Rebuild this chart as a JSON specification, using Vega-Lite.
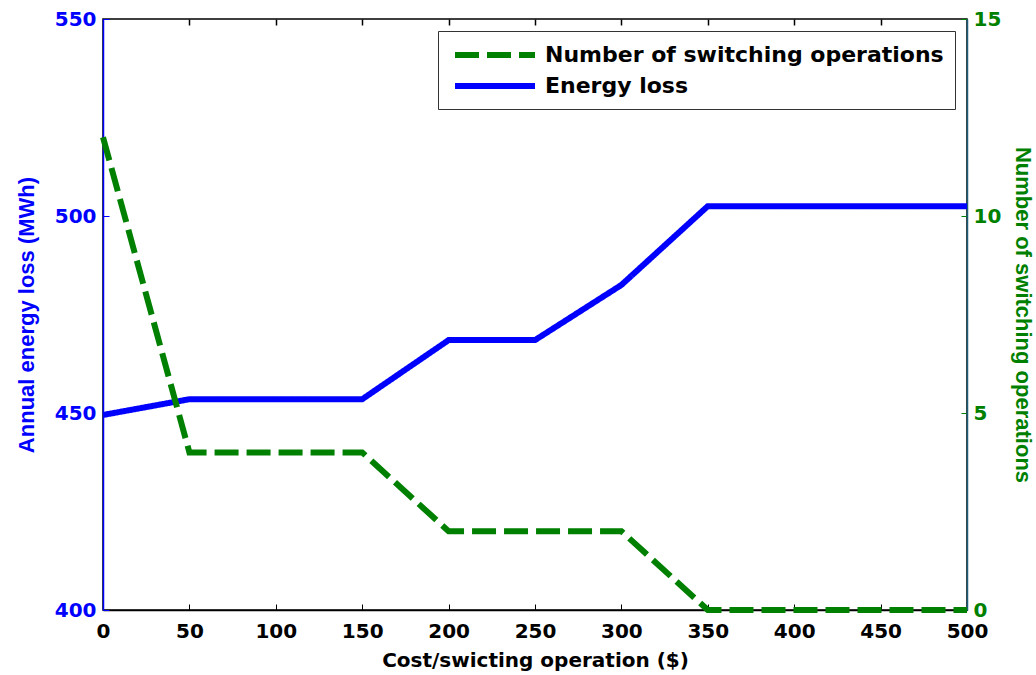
{
  "$schema": "https://vega.github.io/schema/vega-lite/v6.json",
  "width": 864,
  "height": 591,
  "autosize": "none",
  "padding": {"left": 103, "top": 19, "right": 69, "bottom": 65},
  "background": "white",
  "config": {
    "view": {"stroke": "black", "strokeWidth": 1.5},
    "font": "DejaVu Sans",
    "legend": {
      "titleFontSize": 0,
      "symbolType": "M-4,0L4,0",
      "symbolSize": 400,
      "symbolStrokeWidth": 6,
      "labelFont": "DejaVu Sans",
      "labelFontSize": 22,
      "labelFontWeight": "bold",
      "labelColor": "black",
      "labelLimit": 600,
      "strokeColor": "#333333",
      "fillColor": "white",
      "padding": 11,
      "rowPadding": 6,
      "symbolOffset": 33,
      "labelOffset": 37
    }
  },
  "data": {
    "values": [
      {"cost": 0, "series": "Energy loss", "value": 449.5},
      {"cost": 50, "series": "Energy loss", "value": 453.5},
      {"cost": 100, "series": "Energy loss", "value": 453.5},
      {"cost": 150, "series": "Energy loss", "value": 453.5},
      {"cost": 200, "series": "Energy loss", "value": 468.5},
      {"cost": 250, "series": "Energy loss", "value": 468.5},
      {"cost": 300, "series": "Energy loss", "value": 482.5},
      {"cost": 350, "series": "Energy loss", "value": 502.5},
      {"cost": 400, "series": "Energy loss", "value": 502.5},
      {"cost": 450, "series": "Energy loss", "value": 502.5},
      {"cost": 500, "series": "Energy loss", "value": 502.5},
      {"cost": 0, "series": "Number of switching operations", "value": 12},
      {"cost": 50, "series": "Number of switching operations", "value": 4},
      {"cost": 100, "series": "Number of switching operations", "value": 4},
      {"cost": 150, "series": "Number of switching operations", "value": 4},
      {"cost": 200, "series": "Number of switching operations", "value": 2},
      {"cost": 250, "series": "Number of switching operations", "value": 2},
      {"cost": 300, "series": "Number of switching operations", "value": 2},
      {"cost": 350, "series": "Number of switching operations", "value": 0},
      {"cost": 400, "series": "Number of switching operations", "value": 0},
      {"cost": 450, "series": "Number of switching operations", "value": 0},
      {"cost": 500, "series": "Number of switching operations", "value": 0}
    ]
  },
  "encoding": {
    "x": {
      "field": "cost",
      "type": "quantitative",
      "scale": {"domain": [0, 500], "nice": false},
      "axis": {
        "values": [0, 50, 100, 150, 200, 250, 300, 350, 400, 450, 500],
        "grid": false,
        "tickSize": -6,
        "tickColor": "black",
        "domainColor": "black",
        "domainWidth": 1.5,
        "labelFont": "DejaVu Sans",
        "labelFontSize": 20,
        "labelFontWeight": "bold",
        "labelColor": "black",
        "labelPadding": 17,
        "labelFlush": false,
        "title": "Cost/swicting operation ($)",
        "titleFont": "DejaVu Sans",
        "titleFontSize": 20,
        "titleFontWeight": "bold",
        "titleColor": "black",
        "titlePadding": 9
      }
    },
    "color": {
      "field": "series",
      "type": "nominal",
      "scale": {"domain": ["Number of switching operations", "Energy loss"], "range": ["#008000", "#0000ff"]},
      "legend": {"orient": "none", "legendX": 335, "legendY": 12, "title": null}
    },
    "strokeDash": {
      "field": "series",
      "type": "nominal",
      "scale": {"domain": ["Number of switching operations", "Energy loss"], "range": [[24, 8], [1, 0]]},
      "legend": {"orient": "none", "legendX": 335, "legendY": 12, "title": null}
    }
  },
  "layer": [
    {
      "transform": [{"filter": "datum.series === 'Energy loss'"}],
      "mark": {"type": "line", "strokeWidth": 6, "strokeCap": "butt"},
      "encoding": {
        "y": {
          "field": "value",
          "type": "quantitative",
          "scale": {"domain": [400, 550], "nice": false, "zero": false},
          "axis": {
            "orient": "left",
            "values": [400, 450, 500, 550],
            "grid": false,
            "tickSize": -6,
            "tickColor": "#0000ff",
            "domainColor": "#0000ff",
            "domainWidth": 1.5,
            "labelFont": "DejaVu Sans",
            "labelFontSize": 20,
            "labelFontWeight": "bold",
            "labelColor": "#0000ff",
            "labelPadding": 13,
            "labelFlush": false,
            "title": "Annual energy loss (MWh)",
            "titleFont": "Liberation Sans",
            "titleFontSize": 22,
            "titleFontWeight": "bold",
            "titleColor": "#0000ff",
            "titlePadding": 16
          }
        }
      }
    },
    {
      "transform": [{"filter": "datum.series === 'Number of switching operations'"}],
      "mark": {"type": "line", "strokeWidth": 6, "strokeCap": "butt"},
      "encoding": {
        "x": {
          "field": "cost",
          "type": "quantitative",
          "scale": {"domain": [0, 500], "nice": false},
          "axis": {
            "orient": "top",
            "values": [50, 100, 150, 200, 250, 300, 350, 400, 450],
            "grid": false,
            "labels": false,
            "domain": false,
            "title": null,
            "tickSize": -6,
            "tickWidth": 1.5,
            "tickColor": "black"
          }
        },
        "y": {
          "field": "value",
          "type": "quantitative",
          "scale": {"domain": [0, 15], "nice": false, "zero": false},
          "axis": {
            "orient": "right",
            "values": [0, 5, 10, 15],
            "grid": false,
            "tickSize": -6,
            "tickColor": "#008000",
            "domainColor": "#1b5e7a",
            "domainWidth": 1.5,
            "labelFont": "DejaVu Sans",
            "labelFontSize": 20,
            "labelFontWeight": "bold",
            "labelColor": "#008000",
            "labelPadding": 12,
            "labelFlush": false,
            "title": "Number of switching operations",
            "titleFont": "Liberation Sans",
            "titleFontSize": 22,
            "titleFontWeight": "bold",
            "titleColor": "#008000",
            "titlePadding": 10
          }
        }
      }
    }
  ],
  "resolve": {"scale": {"y": "independent"}, "axis": {"x": "independent"}}
}
